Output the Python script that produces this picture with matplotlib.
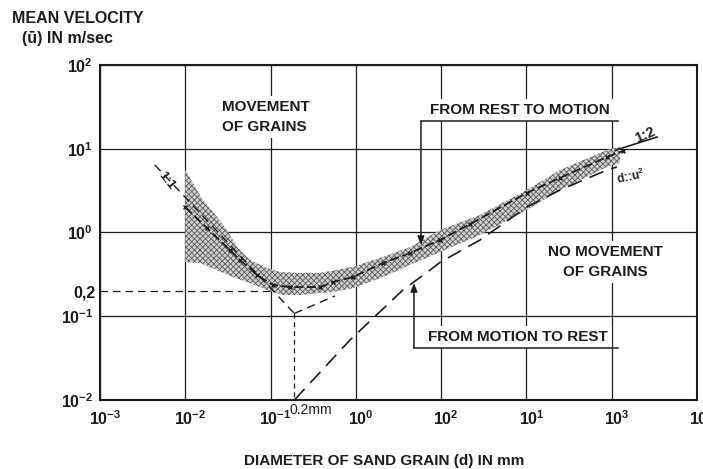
import numpy as np
import matplotlib
matplotlib.use('Agg')
import matplotlib.pyplot as plt
import matplotlib.transforms as mtransforms

plt.rcParams['font.family'] = ['Liberation Sans', 'DejaVu Sans']
plt.rcParams['font.weight'] = 'bold'
plt.rcParams['mathtext.fontset'] = 'custom'
plt.rcParams['mathtext.rm'] = 'Liberation Sans:bold'
plt.rcParams['mathtext.bf'] = 'Liberation Sans:bold'
plt.rcParams['mathtext.it'] = 'Liberation Sans:bold'
plt.rcParams['hatch.linewidth'] = 0.6

ink = '#1c1c1c'

# grain diameter d (mm) / mean velocity u (m/s)
# upper and lower edge of the shaded band (from rest to motion)
d_up = [0.01, 0.0123, 0.0161, 0.0236, 0.0308, 0.0404, 0.0574, 0.0908, 0.129,
        0.204, 0.38, 0.54, 0.925, 2.08, 4.31, 9.7, 28.5, 101, 247, 880, 1250]
u_up = [5.6, 3.9, 2.44, 1.53, 1.07, 0.67, 0.47, 0.377, 0.337,
        0.33, 0.33, 0.35, 0.39, 0.51, 0.67, 1.07, 1.62, 3.21, 5.57, 9.66, 10.5]
d_lo = [0.01, 0.0149, 0.0236, 0.0362, 0.0574, 0.0908, 0.140, 0.221, 0.38, 0.54,
        0.925, 2.08, 4.31, 9.7, 28.5, 101, 247, 880, 1250]
u_lo = [0.445, 0.432, 0.356, 0.294, 0.249, 0.206, 0.179, 0.179, 0.19, 0.195,
        0.217, 0.294, 0.41, 0.585, 0.933, 1.86, 3.21, 6.06, 6.76]

# mean curve inside the band
d_mid = [0.01, 0.018, 0.0334, 0.0438, 0.0693, 0.107, 0.169, 0.38, 0.54, 0.925,
         2.08, 4.31, 9.7, 21.8, 101, 247, 880, 1355]
u_mid = [2.01, 1.13, 0.618, 0.47, 0.311, 0.236, 0.223, 0.223, 0.256, 0.294,
         0.432, 0.569, 0.813, 1.26, 2.97, 4.48, 7.98, 9.4]

# 1:2 continuation past the band
d_12 = [1100, 3400]
u_12 = [9.6, 13.8]

# from motion to rest (d::u^2)
d_rest = [0.19, 0.853, 3.57, 7.4, 9.7, 28.5, 101, 247, 880, 1150]
u_rest = [0.01, 0.052, 0.206, 0.356, 0.44, 0.813, 2.01, 3.21, 5.57, 6.06]

# 1:1 line and the V at 0.2 mm
d_11 = [0.0044, 0.19]
u_11 = [6.4, 0.108]
d_leg = [0.19, 0.57]
u_leg = [0.108, 0.175]
d_02 = 0.19
u_02 = 0.2

x_ticks = [1e-3, 1e-2, 1e-1, 1e0, 1e1, 1e2, 1e3, 1e4]
x_labels = ['$10^{-3}$', '$10^{-2}$', '$10^{-1}$', '$10^{0}$',
            '$10^{2}$', '$10^{1}$', '$10^{3}$', '$10^{4}$']
y_ticks = [1e-2, 1e-1, 1e0, 1e1, 1e2]
y_labels = ['$10^{-2}$', '$10^{-1}$', '$10^{0}$', '$10^{1}$', '$10^{2}$']

fig = plt.figure(figsize=(7.03, 4.69), dpi=100)
ax = fig.add_axes([100 / 703, 1 - 400 / 469, 597 / 703, 335 / 469])
ax.set_xscale('log')
ax.set_yscale('log')
ax.set_xlim(1e-3, 1e4)
ax.set_ylim(1e-2, 1e2)

ax.set_xticks(x_ticks, x_labels)
ax.set_yticks(y_ticks, y_labels)
ax.set_xticks([], minor=True)
ax.set_yticks([u_02], ['0,2'], minor=True)
ax.tick_params(which='both', length=0, labelsize=11.5, colors=ink)
ax.tick_params(axis='x', pad=7)
ax.tick_params(axis='y', pad=5)
shift = mtransforms.ScaledTranslation(5 / 100, 0, fig.dpi_scale_trans)
for lab in ax.get_xticklabels():
    lab.set_transform(lab.get_transform() + shift)

ax.grid(True, which='major', color=ink, lw=0.9)
for s in ax.spines.values():
    s.set_linewidth(1.5)
    s.set_color(ink)

# shaded band
ax.fill(d_up + d_lo[::-1], u_up + u_lo[::-1], facecolor='#d2d2d2',
        edgecolor='#5a5a5a', hatch='xxxxxx', lw=0, zorder=2)

ax.plot(d_mid, u_mid, color=ink, lw=1.3, ls=(0, (5, 2)), marker='x', ms=3.5,
        mew=1, zorder=3)
ax.plot(d_12, u_12, color=ink, lw=1.2, zorder=3)
ax.plot(d_rest, u_rest, color=ink, lw=1.2, ls=(0, (9, 5)), zorder=3)
ax.plot(d_11, u_11, color=ink, lw=1.0, ls=(0, (6, 4)), zorder=3)
ax.plot(d_leg, u_leg, color=ink, lw=1.0, ls=(0, (6, 4)), zorder=3)
ax.plot([d_02, d_02], [u_11[-1], 1e-2], color=ink, lw=0.9, ls=(0, (4, 3)), zorder=3)
ax.plot([1e-3, 0.104], [u_02, u_02], color=ink, lw=0.9, ls=(0, (6, 4)), zorder=3)

box = dict(facecolor='white', edgecolor='none', pad=3)

# region labels
ax.text(0.204, 0.845, 'MOVEMENT\nOF GRAINS', transform=ax.transAxes,
        ha='left', va='center', fontsize=11, linespacing=1.5, color=ink,
        bbox=box, zorder=4)
ax.text(0.846, 0.412, 'NO MOVEMENT\nOF GRAINS', transform=ax.transAxes,
        ha='center', va='center', multialignment='center', fontsize=11,
        linespacing=1.5, color=ink, bbox=box, zorder=4)

# from rest to motion
ax.text(0.7035, 0.866, 'FROM REST TO MOTION', transform=ax.transAxes,
        ha='center', va='center', fontsize=11, color=ink, bbox=box, zorder=4)
ax.plot([5.8, 1180], [21.4, 21.4], color=ink, lw=1.1, zorder=5)
ax.annotate('', xy=(5.8, 0.71), xytext=(5.8, 21.4),
            arrowprops=dict(arrowstyle='-|>,head_length=0.5,head_width=0.2',
                            color=ink, lw=1.1, shrinkA=0, shrinkB=0), zorder=5)

# from motion to rest
ax.text(0.700, 0.188, 'FROM MOTION TO REST', transform=ax.transAxes,
        ha='center', va='center', fontsize=11, color=ink, bbox=box, zorder=4)
ax.plot([4.8, 1180], [0.0418, 0.0418], color=ink, lw=1.1, zorder=5)
ax.annotate('', xy=(4.8, 0.249), xytext=(4.8, 0.0418),
            arrowprops=dict(arrowstyle='-|>,head_length=0.5,head_width=0.2',
                            color=ink, lw=1.1, shrinkA=0, shrinkB=0), zorder=5)

# line annotations
ax.text(0.112, 0.654, '1:1', transform=ax.transAxes, ha='center', va='center',
        rotation=-52, fontsize=9.5, color=ink, zorder=4)
ax.text(0.913, 0.79, '1:2', transform=ax.transAxes, ha='center', va='center',
        rotation=24, fontsize=10.5, color=ink, zorder=4)
ax.text(0.889, 0.666, 'd::u$^{2}$', transform=ax.transAxes, ha='center',
        va='center', rotation=12, fontsize=8.5, color=ink, zorder=4)
ax.text(0.318, -0.03, '0.2mm', transform=ax.transAxes, ha='left',
        va='center', fontsize=10, fontweight='normal', color=ink,
        clip_on=False, zorder=4)

# axis titles
fig.text(12 / 703, 1 - 18.5 / 469, 'MEAN VELOCITY', ha='left', va='center',
         fontsize=11.5, color=ink)
fig.text(22 / 703, 1 - 39 / 469, '(\u016b) IN m/sec', ha='left', va='center',
         fontsize=11.5, color=ink)
fig.text(384 / 703, 1 - 461 / 469, 'DIAMETER OF SAND GRAIN (d) IN mm',
         ha='center', va='center', fontsize=11, color=ink)

fig.savefig('out.png', dpi=100, facecolor='white')
